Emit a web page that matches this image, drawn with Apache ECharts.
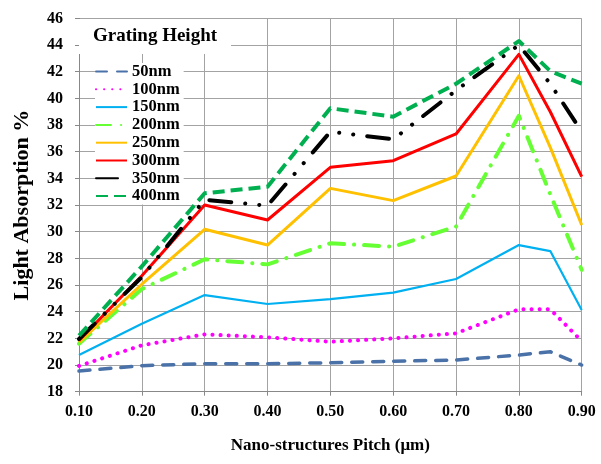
<!DOCTYPE html>
<html>
<head>
<meta charset="utf-8">
<title>Light Absorption vs Pitch</title>
<script src="https://cdn.jsdelivr.net/npm/echarts@6/dist/echarts.min.js"></script>
<style>
  html, body { margin: 0; padding: 0; background: #fff; }
  #chart { width: 601px; height: 464px; }
</style>
</head>
<body>
<div id="chart"></div>
<script>
  // pitch values (um) and light absorption (%) per grating height
  var pitch = [0.10, 0.20, 0.30, 0.40, 0.50, 0.60, 0.70, 0.80, 0.85, 0.90];
  var h50  = [19.55, 19.95, 20.10, 20.10, 20.17, 20.28, 20.38, 20.75, 21.00, 20.00];
  var h100 = [19.93, 21.48, 22.30, 22.08, 21.75, 22.00, 22.38, 24.18, 24.18, 21.80];
  var h150 = [20.75, 23.10, 25.25, 24.58, 24.95, 25.43, 26.45, 29.00, 28.55, 24.13];
  var h200 = [21.60, 25.70, 27.93, 27.55, 29.13, 28.88, 30.38, 38.70, 32.80, 27.14];
  var h250 = [21.70, 26.06, 30.18, 29.00, 33.25, 32.33, 34.18, 41.70, 36.33, 30.50];
  var h300 = [21.85, 26.70, 32.00, 30.88, 34.83, 35.33, 37.33, 43.30, 39.00, 34.13];
  var h350 = [21.95, 26.60, 32.40, 31.95, 37.50, 36.93, 40.60, 44.00, 41.10, 37.50];
  var h400 = [22.20, 27.40, 32.88, 33.38, 39.26, 38.63, 41.10, 44.30, 42.05, 41.10];

  var heightNames = ['50nm', '100nm', '150nm', '200nm', '250nm', '300nm', '350nm', '400nm'];
  var yTicks = [18, 46, 2];   // min, max, step
  var xTicks = [0.1, 0.9, 0.1];

  var font = 'Liberation Serif';

  function pairs(ys) {
    return pitch.map(function (x, i) { return [x, ys[i]]; });
  }

  function line(name, ys, color, width, type, cap) {
    return {
      name: name,
      type: 'line',
      data: pairs(ys),
      symbol: 'none',
      animation: false,
      lineStyle: { color: color, width: width, type: type, cap: cap || 'butt', join: 'round' },
      itemStyle: { color: color }
    };
  }

  var chart = echarts.init(document.getElementById('chart'));
  chart.setOption({
    backgroundColor: '#fff',
    animation: false,
    title: {
      text: 'Grating Height',
      left: 79,
      top: 19,
      padding: [8, 14, 8, 14],
      backgroundColor: '#fff',
      textStyle: { fontFamily: font, fontSize: 19, fontWeight: 'bold', color: '#000' }
    },
    legend: {
      data: heightNames,
      orient: 'vertical',
      left: 95,
      top: 63,
      padding: [0, 4, 0, 0],
      itemWidth: 31,
      itemHeight: 14,
      itemGap: 0.8,
      backgroundColor: '#fff',
      itemStyle: { color: 'rgba(0,0,0,0)', borderWidth: 0, opacity: 0 },
      textStyle: { fontFamily: font, fontSize: 16.5, fontWeight: 'bold', color: '#000', lineHeight: 14 }
    },
    grid: { left: 79, right: 19.3, top: 18.4, bottom: 72.3 },
    xAxis: {
      type: 'value',
      min: xTicks[0],
      max: xTicks[1],
      interval: xTicks[2],
      name: 'Nano-structures Pitch (μm)',
      nameLocation: 'middle',
      nameGap: 45,
      nameTextStyle: { fontFamily: font, fontSize: 17, fontWeight: 'bold', color: '#000' },
      axisLine: { lineStyle: { color: '#888', width: 1 } },
      axisTick: { show: true, length: 4, lineStyle: { color: '#888' } },
      axisLabel: {
        margin: 12,
        fontFamily: font, fontSize: 16, fontWeight: 'bold', color: '#000',
        formatter: function (v) { return v.toFixed(2); }
      },
      splitLine: { show: true, lineStyle: { color: '#a3a3a3', width: 1 } }
    },
    yAxis: {
      type: 'value',
      min: yTicks[0],
      max: yTicks[1],
      interval: yTicks[2],
      name: 'Light Absorption %',
      nameLocation: 'middle',
      nameGap: 46,
      nameTextStyle: { fontFamily: font, fontSize: 22, fontWeight: 'bold', color: '#000' },
      axisLine: { show: true, lineStyle: { color: '#888', width: 1 } },
      axisTick: { show: true, length: 4, lineStyle: { color: '#888' } },
      axisLabel: { margin: 16, fontFamily: font, fontSize: 16, fontWeight: 'bold', color: '#000' },
      splitLine: { show: true, lineStyle: { color: '#a3a3a3', width: 1 } }
    },
    series: [
      line('50nm', h50, '#4a72a8', 3.5, [11, 10], 'round'),
      line('100nm', h100, '#ff00ff', 4, [0.1, 8], 'round'),
      line('150nm', h150, '#00b0f0', 2.2, 'solid'),
      line('200nm', h200, '#66ff33', 4, [15, 10, 0.1, 10], 'round'),
      line('250nm', h250, '#ffc000', 3, 'solid'),
      line('300nm', h300, '#ff0000', 3, 'solid'),
      line('350nm', h350, '#000000', 4, [22, 14, 0.1, 14, 0.1, 14], 'round'),
      line('400nm', h400, '#00b050', 4, [12, 6])
    ]
  });
</script>
</body>
</html>
